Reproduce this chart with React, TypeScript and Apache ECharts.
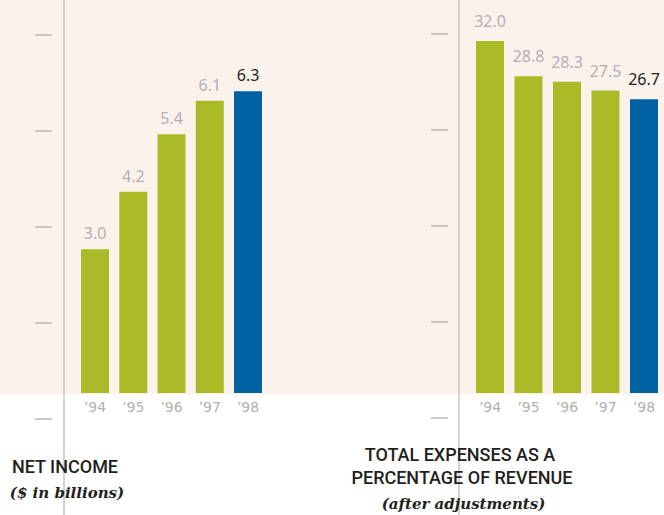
import React, { useEffect, useRef } from "react";
import * as echarts from "echarts";

const years = ["’94", "’95", "’96", "’97", "’98"];
const netIncome = [3.0, 4.2, 5.4, 6.1, 6.3];
const expensePct = [32.0, 28.8, 28.3, 27.5, 26.7];

const GREEN = "#aabb27";
const BLUE = "#0062a3";
const GRAY_LABEL = "#b6afb1";
const DARK = "#231f20";
const BG = "#fbf2ec";
const LINE_GRAY = "#c9c5c6";

function barData(values: number[]) {
  return values.map((v, i) => {
    const last = i === values.length - 1;
    return {
      value: v,
      itemStyle: { color: last ? BLUE : GREEN },
      label: { color: last ? DARK : GRAY_LABEL },
    };
  });
}

export default function App() {
  const ref = useRef<HTMLDivElement>(null);
  useEffect(() => {
    if (!ref.current) return;
    const chart = echarts.init(ref.current, null, { renderer: "svg" });
    const labelFont = "'Noto Sans', 'Open Sans', sans-serif";
    const yearFont = "'DejaVu Sans', sans-serif";
    const titleFont = "Roboto, 'Liberation Sans', sans-serif";
    const serifFont = "'DejaVu Serif', 'Liberation Serif', serif";
    const xAxisCommon = {
      type: "category" as const,
      data: years,
      axisLine: { show: false },
      axisTick: { show: false },
      axisLabel: {
        color: "#b3b0b0",
        fontSize: 14,
        fontFamily: yearFont,
        margin: 7,
      },
    };
    const decoAxis = (gridIndex: number) => ({
      type: "value" as const,
      gridIndex,
      min: 0,
      max: 4,
      interval: 1,
      axisLine: { show: false },
      axisTick: { show: false },
      axisLabel: { show: false },
      splitLine: { show: true, lineStyle: { color: "#b9b7b7", width: 1.5 } },
    });
    chart.setOption({
      animation: false,
      backgroundColor: "#ffffff",
      grid: [
        { left: 75.9, width: 191.25, top: 9.8, bottom: 122 },
        { left: 470.75, width: 192.5, top: 8, bottom: 122 },
        { left: 35, width: 17, top: 35, bottom: 96 },
        { left: 431, width: 17, top: 33.5, bottom: 97.5 },
      ],
      xAxis: [
        { ...xAxisCommon, gridIndex: 0 },
        { ...xAxisCommon, gridIndex: 1 },
        { type: "value", gridIndex: 2, show: false },
        { type: "value", gridIndex: 3, show: false },
      ],
      yAxis: [
        { type: "value", gridIndex: 0, min: 0, max: 8, show: false },
        { type: "value", gridIndex: 1, min: 0, max: 35, show: false },
        decoAxis(2),
        decoAxis(3),
      ],
      series: [
        {
          type: "bar",
          xAxisIndex: 0,
          yAxisIndex: 0,
          data: barData(netIncome),
          barWidth: 28,
          label: {
            show: true,
            position: "top",
            distance: 8,
            fontSize: 16,
            fontFamily: labelFont,
            formatter: (p: any) => p.value.toFixed(1),
          },
        },
        {
          type: "bar",
          xAxisIndex: 1,
          yAxisIndex: 1,
          data: barData(expensePct),
          barWidth: 28,
          label: {
            show: true,
            position: "top",
            distance: 12,
            fontSize: 16,
            fontFamily: labelFont,
            formatter: (p: any) => p.value.toFixed(1),
          },
        },
      ],
      graphic: [
        {
          type: "rect",
          z: -10,
          silent: true,
          shape: { x: 0, y: 0, width: 664, height: 394 },
          style: { fill: BG },
        },
        {
          type: "line",
          z: 5,
          silent: true,
          shape: { x1: 64, y1: 0, x2: 64, y2: 515 },
          style: { stroke: LINE_GRAY, lineWidth: 1.5 },
        },
        {
          type: "line",
          z: 5,
          silent: true,
          shape: { x1: 459, y1: 0, x2: 459, y2: 515 },
          style: { stroke: LINE_GRAY, lineWidth: 1.5 },
        },
        {
          type: "text",
          z: 10,
          x: 65,
          y: 466,
          style: {
            text: "NET INCOME",
            fill: DARK,
            font: `500 18px ${titleFont}`,
            textAlign: "center",
            textVerticalAlign: "middle",
          },
        },
        {
          type: "text",
          z: 10,
          x: 67,
          y: 493,
          style: {
            text: "($ in billions)",
            fill: DARK,
            font: `italic bold 15px ${serifFont}`,
            textAlign: "center",
            textVerticalAlign: "middle",
          },
        },
        {
          type: "text",
          z: 10,
          x: 460,
          y: 454,
          style: {
            text: "TOTAL EXPENSES AS A",
            fill: DARK,
            font: `500 18px ${titleFont}`,
            textAlign: "center",
            textVerticalAlign: "middle",
          },
        },
        {
          type: "text",
          z: 10,
          x: 462,
          y: 477,
          style: {
            text: "PERCENTAGE OF REVENUE",
            fill: DARK,
            font: `500 18px ${titleFont}`,
            textAlign: "center",
            textVerticalAlign: "middle",
          },
        },
        {
          type: "text",
          z: 10,
          x: 463.5,
          y: 504,
          style: {
            text: "(after adjustments)",
            fill: DARK,
            font: `italic bold 15px ${serifFont}`,
            textAlign: "center",
            textVerticalAlign: "middle",
          },
        },
      ],
    });
    return () => chart.dispose();
  }, []);
  return (
    <div
      ref={ref}
      style={{ position: "fixed", left: 0, top: 0, width: 664, height: 515 }}
    />
  );
}
